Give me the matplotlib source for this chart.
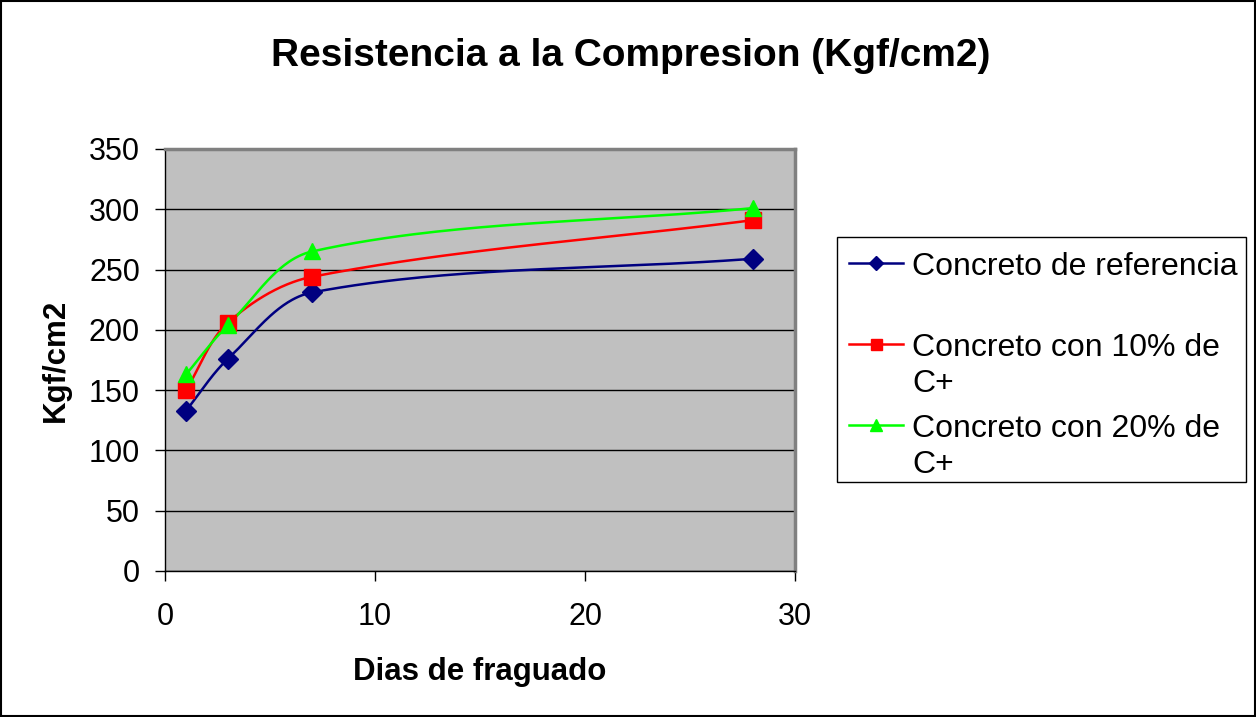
import numpy as np
import matplotlib
matplotlib.use("Agg")
import matplotlib.pyplot as plt
from matplotlib.lines import Line2D
from matplotlib.patches import Rectangle

plt.rcParams['font.family'] = ['Liberation Sans', 'DejaVu Sans']

days = [1, 3, 7, 28]
ref = [133, 176, 231, 259]
c10 = [150, 206, 244, 291]
c20 = [163, 204, 265, 301]
labels = ["Concreto de referencia", "Concreto con 10% de\nC+", "Concreto con 20% de\nC+"]
colors = ["#000080", "#FF0000", "#00FF00"]
markers = ["D", "s", "^"]
msizes = [10, 11, 12]
title = "Resistencia a la Compresion (Kgf/cm2)"
xlabel = "Dias de fraguado"
ylabel = "Kgf/cm2"
xticks = [0, 10, 20, 30]
yticks = [0, 50, 100, 150, 200, 250, 300, 350]


def smooth(ax, x, y, n=60):
    """Excel-like smoothed line: Bezier segments with chord-scaled tangents, in display space."""
    pts = ax.transData.transform(np.column_stack([x, y]))
    P = np.vstack([pts[0], pts, pts[-1]])
    t = np.linspace(0, 1, n)[:, None]
    out = []
    for i in range(1, len(P) - 2):
        p0, p3 = P[i], P[i + 1]
        dprev = np.linalg.norm(P[i] - P[i - 1])
        dcur = np.linalg.norm(P[i + 1] - P[i])
        dnext = np.linalg.norm(P[i + 2] - P[i + 1])
        t0 = P[i + 1] - P[i - 1]
        t1 = P[i + 2] - P[i]
        f0 = dcur / (dprev + dcur) / 3 if dprev + dcur > 0 else 0
        f1 = dcur / (dcur + dnext) / 3 if dcur + dnext > 0 else 0
        p1 = p0 + t0 * f0
        p2 = p3 - t1 * f1
        b = (1 - t) ** 3 * p0 + 3 * (1 - t) ** 2 * t * p1 + 3 * (1 - t) * t ** 2 * p2 + t ** 3 * p3
        out.append(b)
    out = np.vstack(out)
    d = ax.transData.inverted().transform(out)
    return d[:, 0], d[:, 1]


W, H = 1256, 717
fig = plt.figure(figsize=(W / 100, H / 100), dpi=100)
fig.patch.set_facecolor("white")
fig.add_artist(Rectangle((0.001, 0.001), 0.998, 0.997, transform=fig.transFigure,
                         fill=False, edgecolor="black", linewidth=1.5))

ax = fig.add_axes([165 / W, 1 - 571 / H, 630 / W, 422 / H])
ax.set_facecolor("#C0C0C0")
ax.set_xlim(0, 30)
ax.set_ylim(0, 350)
ax.set_xticks(xticks)
ax.set_yticks(yticks)
ax.yaxis.grid(True, color="black", linewidth=1)
ax.set_axisbelow(True)
for s in ["top", "right"]:
    ax.spines[s].set_color("#808080")
    ax.spines[s].set_linewidth(2.5)
for s in ["left", "bottom"]:
    ax.spines[s].set_color("black")
    ax.spines[s].set_linewidth(1)
ax.tick_params(axis="both", labelsize=22, direction="out", length=7, width=1)
ax.tick_params(axis="x", pad=15)
ax.tick_params(axis="y", pad=11)

series = [ref, c10, c20]
for vals, col, m, ms in zip(series, colors, markers, msizes):
    sx, sy = smooth(ax, days, vals)
    ax.plot(sx, sy, color=col, linewidth=1.8, zorder=3, clip_on=False)
    ax.plot(days, vals, linestyle="none", marker=m, markersize=ms, color=col, zorder=4, clip_on=False)

ax.set_xlabel(xlabel, fontsize=22.5, fontweight="bold", labelpad=18)
ax.set_ylabel(ylabel, fontsize=22.5, fontweight="bold", labelpad=13)
fig.text(631 / W, 1 - 56 / H, title, fontsize=28, fontweight="bold", ha="center", va="center")

# legend box
lx0, ly0, lx1, ly1 = 837, 237, 1246, 482
fig.add_artist(Rectangle((lx0 / W, 1 - ly1 / H), (lx1 - lx0) / W, (ly1 - ly0) / H,
                         transform=fig.transFigure, fill=True, facecolor="white",
                         edgecolor="black", linewidth=1))
rows = [263, 344, 425]
for lab, col, m, ms, yy in zip(labels, colors, markers, msizes, rows):
    fig.add_artist(Line2D([849 / W, 903 / W], [1 - yy / H] * 2, transform=fig.transFigure,
                          color=col, linewidth=1.8))
    fig.add_artist(Line2D([876 / W], [1 - yy / H], transform=fig.transFigure,
                          color=col, marker=m, markersize=ms * 0.72, linestyle="none"))
    fig.text(912 / W, 1 - (yy - 11) / H, lab, fontsize=23, ha="left", va="top", linespacing=1.27)

fig.savefig("out.png", dpi=100)
